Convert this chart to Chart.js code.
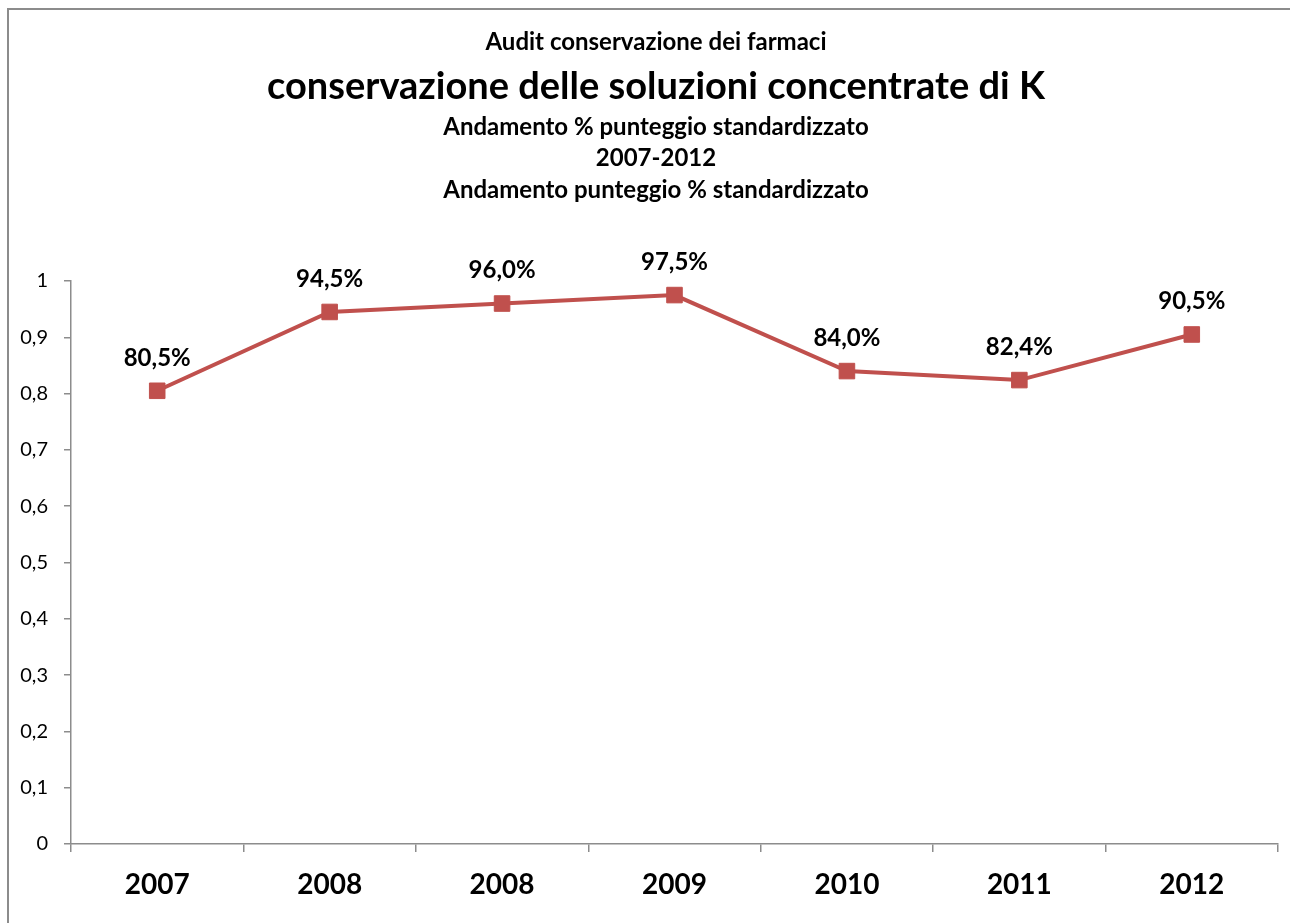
<!DOCTYPE html>
<html>
<head>
<meta charset="utf-8">
<script src="https://cdn.jsdelivr.net/npm/chart.js@4/dist/chart.umd.min.js"></script>
<style>
    html, body { margin: 0; padding: 0; background: #fff; overflow: hidden; }
    #wrap { position: relative; width: 1290px; height: 923px; overflow: hidden; }
    #frame { position: absolute; left: 7px; top: 8px; width: 1300px; height: 930px;
             border-left: 2px solid #8c8c8c; border-top: 2px solid #8c8c8c; pointer-events: none; }
</style>
</head>
<body>
<div id="wrap">
    <canvas id="grafico" width="1290" height="923"></canvas>
    <div id="frame"></div>
</div>
<script>
let anni = ["2007", "2008", "2008", "2009", "2010", "2011", "2012"];
let punteggi = [0.805, 0.945, 0.96, 0.975, 0.84, 0.824, 0.905];
let tickY = [0, 0.1, 0.2, 0.3, 0.4, 0.5, 0.6, 0.7, 0.8, 0.9, 1];

let titoli = [
    { text: "Audit conservazione dei farmaci", size: 24, y: 42 },
    { text: "conservazione delle soluzioni concentrate di K", size: 38, y: 87 },
    { text: "Andamento % punteggio standardizzato", size: 24, y: 127 },
    { text: "2007-2012", size: 24, y: 158 },
    { text: "Andamento punteggio % standardizzato", size: 24, y: 190 }
];

const FONT = "Lato, 'Open Sans', sans-serif";
const ROSSO = "#C0504D";
const GRIGIO = "#8c8c8c";

function formatPerc(v) {
    return (v * 100).toFixed(1).replace(".", ",") + "%";
}

// titles on top, in several sizes
let titoliPlugin = {
    id: "titoli",
    afterDraw(chart) {
        let ctx = chart.ctx;
        ctx.save();
        ctx.fillStyle = "#000";
        ctx.textAlign = "center";
        ctx.textBaseline = "middle";
        for (let t of titoli) {
            ctx.font = `bold ${t.size}px ${FONT}`;
            ctx.fillText(t.text, 656, t.y);
        }
        ctx.restore();
    }
};

// value labels above each point
let etichettePlugin = {
    id: "etichette",
    afterDatasetsDraw(chart) {
        let ctx = chart.ctx;
        let meta = chart.getDatasetMeta(0);
        ctx.save();
        ctx.fillStyle = "#000";
        ctx.textAlign = "center";
        ctx.textBaseline = "middle";
        ctx.font = `bold 24px ${FONT}`;
        meta.data.forEach((p, i) => {
            ctx.fillText(formatPerc(punteggi[i]), p.x, p.y - 33);
        });
        ctx.restore();
    }
};

new Chart(document.getElementById("grafico"), {
    type: "line",
    data: {
        labels: anni,
        datasets: [{
            data: punteggi,
            borderColor: ROSSO,
            backgroundColor: ROSSO,
            borderWidth: 4,
            pointStyle: "rect",
            pointRadius: 11,
            pointHoverRadius: 11,
            pointBorderWidth: 1,
            tension: 0
        }]
    },
    options: {
        responsive: false,
        animation: false,
        events: [],
        layout: { padding: { top: 281, right: 12, left: 0, bottom: 0 } },
        plugins: {
            legend: { display: false },
            tooltip: { enabled: false }
        },
        scales: {
            x: {
                offset: true,
                grid: { offset: true, drawOnChartArea: false, drawTicks: true, tickLength: 8, color: GRIGIO, lineWidth: 1.5 },
                border: { display: true, color: GRIGIO, width: 1.5 },
                ticks: { color: "#000", padding: 16, font: { family: FONT, size: 28, weight: "bold" } },
                afterFit(scale) { scale.height = 79; }
            },
            y: {
                min: 0,
                max: 1,
                afterBuildTicks(scale) { scale.ticks = tickY.map(v => ({ value: v })); },
                grid: { drawOnChartArea: false, drawTicks: true, tickLength: 7, color: GRIGIO, lineWidth: 1.5 },
                border: { display: true, color: GRIGIO, width: 1.5 },
                ticks: {
                    color: "#000",
                    padding: 16,
                    font: { family: FONT, size: 20 },
                    callback: v => String(v).replace(".", ",")
                },
                afterFit(scale) { scale.width = 71; }
            }
        }
    },
    plugins: [titoliPlugin, etichettePlugin]
});
</script>
</body>
</html>
